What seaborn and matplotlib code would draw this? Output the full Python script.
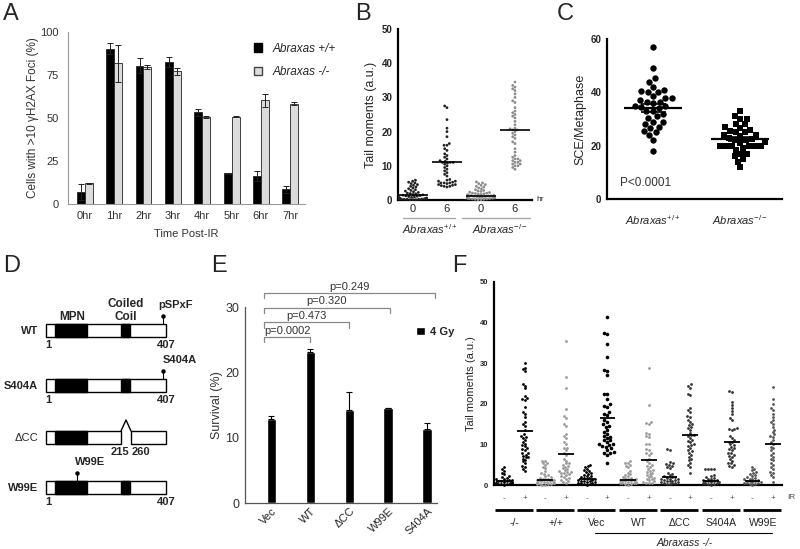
import numpy as np
import pandas as pd
import matplotlib
matplotlib.use("Agg")
import matplotlib.pyplot as plt
import seaborn as sns
from matplotlib.patches import Rectangle, Patch

sns.set_style("white")
plt.rcParams['font.family'] = ['Liberation Sans', 'DejaVu Sans']
plt.rcParams['mathtext.fontset'] = 'custom'
plt.rcParams['mathtext.it'] = 'Liberation Sans:italic'
plt.rcParams['mathtext.rm'] = 'Liberation Sans'

# ---------------- data ----------------
# A: gH2AX foci time course
time_labels = ["0hr", "1hr", "2hr", "3hr", "4hr", "5hr", "6hr", "7hr"]
foci_wt = [6.8, 90.3, 80.4, 82.5, 53.4, 18.0, 16.5, 8.5]
foci_wt_err = [4.7, 3.3, 4.3, 2.9, 2.1, 0.3, 2.9, 2.2]
foci_ko = [12.0, 81.9, 79.4, 77.1, 50.5, 50.6, 60.2, 58.3]
foci_ko_err = [0.4, 10.7, 1.2, 1.9, 0.4, 0.3, 3.7, 0.9]

# B: comet tail moments
comet_groups = ["wt 0", "wt 6", "ko 0", "ko 6"]
comet_ticks = ["0", "6", "0", "6"]
comet_wt_0 = [5.8, 5.5, 5.2, 5.0, 4.8, 4.5, 4.3, 4.0, 3.8, 3.5, 3.3, 3.0, 2.8, 2.6, 2.4,
              2.2, 2.0, 1.9, 1.8, 1.6, 1.5, 1.4, 1.3, 1.2, 1.1, 1.0, 0.9, 0.8, 0.7, 0.6,
              0.5, 0.5, 0.4, 0.4, 0.3, 0.3, 0.2, 0.2, 0.2, 0.1, 0.1, 0.1]
comet_wt_6 = [27.5, 27, 23.5, 21, 20, 18.5, 16.5, 16, 16, 15, 14.5, 13.5, 13, 12.5, 12,
              11.5, 11.3, 11, 11, 11, 10.8, 10.5, 10, 9.5, 9, 8.5, 8, 7.5, 7, 6, 5.8, 5.5,
              5.5, 5.2, 5, 5, 5, 4.8, 4.5, 4.5, 4.3, 4.2, 4, 4, 3.8]
comet_ko_0 = [5.3, 5, 4.8, 4.5, 4.3, 4, 3.8, 3.5, 3.3, 3, 2.8, 2.6, 2.5, 2.3, 2.2, 2, 2,
              1.9, 1.8, 1.7, 1.6, 1.5, 1.5, 1.4, 1.3, 1.2, 1.2, 1.1, 1, 1, 0.9, 0.8, 0.8,
              0.7, 0.6, 0.6, 0.5, 0.5, 0.4, 0.4, 0.3, 0.3, 0.2, 0.2, 0.1, 0.1]
comet_ko_6 = [34.5, 33.5, 33, 32.5, 32, 31, 30, 29, 28.5, 27, 26, 25.5, 25, 24.5, 24, 23,
              22, 21, 20.8, 20.5, 20.5, 20, 19.5, 19, 18.5, 18, 17, 16.5, 15, 14, 13, 12.5,
              12, 12, 11.5, 11.5, 11, 11, 10.5, 10.5, 10, 10, 9.5, 9]
comet_means = [1.5, 11.0, 1.2, 20.5]

# C: sister chromatid exchange
sce_genotypes = ["+/+", "-/-"]
sce_wt = [57, 49, 45.5, 44, 42, 41, 40.5, 40, 40, 38.5, 38, 38, 37, 36.5, 36.5, 36, 35,
          35, 34.5, 34, 33, 33, 32, 31, 30.5, 29, 29, 28, 27, 26.5, 25.5, 25, 24, 22, 18]
sce_ko = [33, 31, 30, 30, 28, 28, 27, 26.5, 26, 25.5, 25, 25, 24, 24, 23.5, 23, 22.5, 22,
          22, 21.5, 21, 20, 20, 20, 20, 20, 20, 19, 18.5, 17, 17, 16, 15, 14, 12]
sce_means = [34.2, 22.5]
sce_sem = [1.5, 0.9]

# D: constructs
construct_names = ["WT", "S404A", "\u0394CC", "W99E"]
site_labels = ["pSPxF", "S404A", "", "W99E"]

# E: clonogenic survival
constructs = ["Vec", "WT", "\u0394CC", "W99E", "S404A"]
survival = [12.8, 23.1, 14.3, 14.5, 11.3]
survival_err = [0.5, 0.5, 2.7, 0.1, 0.9]
p_values = ["p=0.0002", "p=0.473", "p=0.320", "p=0.249"]

# F: comet tail moments, rescue
f_groups = ["-/-", "+/+", "Vec", "WT", "\u0394CC", "S404A", "W99E"]
f_ir = ["-", "+"]
f_values = [
    [4.5, 4, 3.5, 3, 2.6, 2.2, 2, 1.8, 1.6, 1.4, 1.3, 1.2, 1.1, 1, 0.9, 0.8, 0.7, 0.6,
     0.5, 0.5, 0.4, 0.3, 0.2, 0.2, 0.1],
    [30, 28.8, 28.5, 28, 25, 24.5, 23.8, 22, 21.5, 21.3, 21, 19.3, 18, 17.5, 16.8, 15.6,
     15, 14.5, 13.5, 12.5, 12, 11.9, 11.5, 11, 10.7, 10.2, 9.8, 9.5, 9, 8.8, 8.5, 8, 7.8,
     7.5, 7.2, 7, 6.8, 6.5, 6.1, 5.8, 5.3, 4.8, 4.5, 4, 3.5],
    [6, 5.8, 5.5, 5.3, 5, 4.5, 4.2, 3.5, 3, 2.8, 2.5, 2.2, 2, 1.8, 1.6, 1.5, 1.4, 1.3,
     1.2, 1.1, 1, 1, 0.9, 0.8, 0.7, 0.6, 0.5, 0.5, 0.4, 0.3, 0.3, 0.2, 0.2, 0.1, 0.1],
    [35.5, 26.5, 24, 18.6, 17, 16.5, 15, 14.5, 12.5, 12, 11.5, 10.5, 10, 9.2, 9, 8.5, 8,
     7.5, 6.5, 6, 5.5, 5.3, 5, 4.8, 4.5, 4.3, 4, 3.8, 3.5, 3.3, 3.2, 3, 3, 2.8, 2.5, 2.2,
     2, 1.8, 1.5, 1.2, 1, 0.8, 0.6],
    [5, 4.8, 4.5, 4, 3.8, 3.5, 3.3, 3, 2.8, 2.5, 2.3, 2.2, 2, 1.8, 1.7, 1.5, 1.4, 1.3,
     1.2, 1.1, 1, 0.9, 0.8, 0.7, 0.6, 0.5, 0.4, 0.3, 0.2, 0.1],
    [41.5, 37.5, 37.2, 34.7, 31.6, 28.3, 28, 27, 22.5, 22.3, 21.3, 20, 19.5, 19.3, 18,
     17.5, 17.2, 16, 15.5, 15, 14.5, 14.3, 13.5, 13, 12.5, 12, 11.9, 11.5, 11, 11, 10.5,
     10, 10, 9.8, 9.5, 9.4, 9, 8.6, 8.2, 8, 7.8, 7.4, 5.3],
    [5.8, 5.5, 5.3, 5, 4.8, 4.5, 3.5, 3, 2.7, 2.4, 2.2, 2, 1.8, 1.7, 1.5, 1.4, 1.3, 1.2,
     1.1, 1, 0.9, 0.8, 0.7, 0.6, 0.5, 0.5, 0.4, 0.3, 0.2, 0.1],
    [28.8, 19.8, 15.5, 15.3, 15, 12.7, 12.5, 12, 11.8, 10.2, 10, 8.8, 8.5, 8, 7.8, 7.5,
     6.5, 6, 5.5, 5, 4.8, 4.5, 4, 3.7, 3.5, 3.2, 3, 2.8, 2.5, 2.3, 2, 1.8, 1.6, 1.4, 1.2,
     1, 0.8, 0.6, 0.5, 0.4],
    [8.8, 8.7, 5.6, 5.4, 5.2, 5, 4.8, 4.5, 4.3, 3, 2.8, 2.5, 2.2, 2, 1.9, 1.8, 1.6, 1.5,
     1.4, 1.3, 1.2, 1.1, 1, 0.9, 0.8, 0.7, 0.6, 0.5, 0.4, 0.3, 0.2],
    [24.8, 24.5, 24, 22.5, 22.2, 19, 18.5, 18, 17, 16.8, 16, 15.6, 15, 14.8, 14.3, 14,
     13.5, 12.8, 12.3, 12.2, 12, 11.5, 11, 10.8, 10.5, 10, 9.8, 9.5, 9, 8.6, 8.3, 8, 7.5,
     7, 6.5, 6.1, 5.5, 5, 4.5, 3],
    [4, 4, 4, 3.9, 2.5, 2.2, 2, 1.8, 1.6, 1.5, 1.3, 1.2, 1.1, 1, 0.9, 0.8, 0.7, 0.6, 0.5,
     0.4, 0.3, 0.2, 0.1],
    [23.2, 22.8, 20.5, 19.8, 19, 18.2, 17.5, 16.5, 16, 14, 13.9, 13.8, 13.5, 12, 11.5, 11,
     10.7, 10.5, 10, 9.8, 9.4, 9, 8.8, 8.5, 8, 7.8, 7.5, 7.2, 7, 6.5, 6, 5.5, 5.3, 5, 4.8,
     4.5],
    [4.5, 4, 3.6, 3.2, 3, 2.8, 2.5, 2.3, 2, 1.8, 1.6, 1.5, 1.4, 1.2, 1.1, 1, 0.9, 0.8, 0.7,
     0.6, 0.5, 0.4, 0.3, 0.2, 0.1],
    [24.2, 21.3, 20, 19, 18.5, 17.5, 16.8, 16, 15.5, 15, 14.3, 13.5, 13, 12.5, 12, 11.9,
     11, 10.5, 10, 9.4, 9, 8.5, 8, 7.5, 7, 6.5, 6.1, 5.5, 5, 4.5, 4, 3.3, 3, 2.5, 2, 0.8],
]
f_means = [1.0, 13.3, 1.3, 7.6, 1.5, 16.4, 1.2, 6.1, 2.0, 12.3, 1.0, 10.7, 1.0, 10.0]
f_colors = ["black", "black", "#9a9a9a", "#9a9a9a", "black", "black", "#9a9a9a",
            "#9a9a9a", "#333333", "#333333", "#333333", "#333333", "#555555", "#555555"]

# ---------------- figure ----------------
W, H = 800, 549
fig = plt.figure(figsize=(W / 100, H / 100), dpi=100)


def px_axes(l, t, r, b):
    return fig.add_axes([l / W, 1 - b / H, (r - l) / W, (b - t) / H])


def prism_style(ax, fs=7):
    sns.despine(ax=ax)
    for s in ["left", "bottom"]:
        ax.spines[s].set_linewidth(1.6)
        ax.spines[s].set_color("black")
    ax.tick_params(axis="y", direction="out", length=3, width=1.2, labelsize=fs, pad=1)
    for lab in ax.get_yticklabels():
        lab.set_fontweight("bold")


# ---- A ----
axA = px_axes(68, 32, 305, 204)
dfa = pd.DataFrame({"time": time_labels * 2, "pct": foci_wt + foci_ko,
                    "geno": ["+/+"] * 8 + ["-/-"] * 8})
sns.barplot(data=dfa, x="time", y="pct", hue="geno", order=time_labels,
            palette={"+/+": "black", "-/-": "#dcdcdc"}, width=0.54, gap=0,
            edgecolor="#222222", linewidth=0.6, errorbar=None, legend=False, ax=axA)
for cont, err in zip(axA.containers, [foci_wt_err, foci_ko_err]):
    xs = [p.get_x() + p.get_width() / 2 for p in cont]
    ys = [p.get_height() for p in cont]
    axA.errorbar(xs, ys, yerr=err, fmt="none", ecolor="#222222", elinewidth=0.7,
                 capsize=2.5, capthick=0.7)
axA.set_xlim(-0.57, 7.44)
axA.set_ylim(0, 100)
axA.set_yticks([0, 25, 50, 75, 100])
sns.despine(ax=axA)
for s in ["left", "bottom"]:
    axA.spines[s].set_color("#999999")
    axA.spines[s].set_linewidth(0.8)
axA.set_xticks(np.arange(-0.5, 8, 1), minor=True)
axA.tick_params(axis="x", which="major", length=0, labelsize=8, pad=5, colors="#333333")
axA.tick_params(axis="x", which="minor", length=3, color="#999999", direction="out")
axA.tick_params(axis="y", length=3, color="#999999", direction="out", labelsize=8,
                labelcolor="#333333")
axA.set_xlabel("Time Post-IR", fontsize=8, color="#333333", labelpad=6)
axA.set_ylabel("Cells with >10 \u03b3H2AX Foci (%)", fontsize=8.5, color="#333333", labelpad=1)
axA.legend(handles=[Patch(facecolor="black", edgecolor="black", label="Abraxas +/+"),
                    Patch(facecolor="#dcdcdc", edgecolor="#444444", label="Abraxas -/-")],
           loc="upper left", bbox_to_anchor=(0.74, 1.0), frameon=False,
           prop={"style": "italic", "size": 8.5}, handlelength=0.7, handleheight=0.7,
           labelspacing=1.0, handletextpad=0.9)

# ---- B ----
axB = px_axes(398, 29, 532, 200)
dfb = pd.DataFrame({"grp": np.repeat(comet_groups, [len(comet_wt_0), len(comet_wt_6),
                                                    len(comet_ko_0), len(comet_ko_6)]),
                    "val": comet_wt_0 + comet_wt_6 + comet_ko_0 + comet_ko_6})
sns.swarmplot(data=dfb, x="grp", y="val", hue="grp", order=comet_groups,
              palette={"wt 0": "#222222", "wt 6": "#222222", "ko 0": "#8c8c8c",
                       "ko 6": "#8c8c8c"},
              size=2.0, legend=False, warn_thresh=1, ax=axB)
for c in axB.collections:
    c.set_clip_on(False)
xb = np.arange(len(comet_groups))
axB.hlines(comet_means, xb - 0.45, xb + 0.45, color="black", lw=1.2, zorder=5)
axB.set_xlim(-0.44, 3.5)
axB.set_ylim(0, 50)
axB.set_yticks(range(0, 51, 10))
axB.set_xticks(xb)
axB.set_xticklabels(comet_ticks, fontsize=8)
axB.tick_params(axis="x", length=0, pad=3)
axB.set_xlabel("")
axB.set_ylabel("Tail moments (a.u.)", fontsize=9, labelpad=3)
prism_style(axB)
tb = axB.get_xaxis_transform()
axB.plot([-0.29, 1.24], [-0.105, -0.105], color="#aaaaaa", lw=1, transform=tb, clip_on=False)
axB.plot([1.44, 3.44], [-0.105, -0.105], color="#aaaaaa", lw=1, transform=tb, clip_on=False)
axB.text(0.5, -0.17, r"$\mathit{Abraxas}^{+/+}$", transform=tb, ha="center", va="center",
         fontsize=8)
axB.text(2.55, -0.17, r"$\mathit{Abraxas}^{-/-}$", transform=tb, ha="center", va="center",
         fontsize=8)
axB.text(3.63, 0.005, "hr", transform=tb, ha="left", va="center", fontsize=6)

# ---- C ----
axC = px_axes(607, 39, 782, 199)
dfc_wt = pd.DataFrame({"geno": "+/+", "sce": sce_wt})
dfc_ko = pd.DataFrame({"geno": "-/-", "sce": sce_ko})
sns.swarmplot(data=dfc_wt, x="geno", y="sce", order=sce_genotypes, color="black",
              marker="o", size=4.6, warn_thresh=1, ax=axC)
sns.swarmplot(data=dfc_ko, x="geno", y="sce", order=sce_genotypes, color="black",
              marker="s", size=4.2, warn_thresh=1, ax=axC)
xc = np.arange(2)
axC.hlines(sce_means, xc - 0.33, xc + 0.33, color="black", lw=1.6, zorder=5)
axC.errorbar(xc, sce_means, yerr=sce_sem, fmt="none", ecolor="black", elinewidth=1.2,
             capsize=9, capthick=1.2, zorder=5)
axC.set_xlim(-0.53, 1.48)
axC.set_ylim(0, 60)
axC.set_yticks([0, 20, 40, 60])
axC.set_xticks(xc)
axC.set_xticklabels([r"$\mathit{Abraxas}^{+/+}$", r"$\mathit{Abraxas}^{-/-}$"], fontsize=8)
axC.tick_params(axis="x", direction="out", length=3, width=1.2, pad=7)
axC.set_xlabel("")
axC.set_ylabel("SCE/Metaphase", fontsize=9, labelpad=3)
prism_style(axC)
axC.text(-0.38, 6, "P<0.0001", ha="left", va="center", fontsize=8.5, color="#333333")

# ---- D (schematic) ----
axD = fig.add_axes([0, 0, 200 / W, 1])
axD.set_xlim(0, 200)
axD.set_ylim(H, 0)
axD.axis("off")
row_top = [324, 379, 431, 481]
site_x = [163, 163, None, 77]
site_lab_x = [176, 180, None, 90]
for i, name in enumerate(construct_names):
    y0 = row_top[i]
    hgt = 13
    if name == "\u0394CC":
        axD.add_patch(Rectangle((46, y0), 75, hgt, facecolor="white", edgecolor="black", lw=1))
        axD.add_patch(Rectangle((131, y0), 35, hgt, facecolor="white", edgecolor="black", lw=1))
        axD.plot([121, 126, 131], [y0, y0 - 11, y0], color="black", lw=1)
        axD.text(120, y0 + 21, "215", ha="center", va="center", fontsize=8, fontweight="bold")
        axD.text(141, y0 + 21, "260", ha="center", va="center", fontsize=8, fontweight="bold")
        axD.text(38, y0 + 7, name, ha="right", va="center", fontsize=8)
    else:
        axD.add_patch(Rectangle((46, y0), 120, hgt, facecolor="white", edgecolor="black", lw=1))
        axD.add_patch(Rectangle((121, y0), 9, hgt, facecolor="black", edgecolor="black", lw=1))
        axD.text(48, y0 + 21, "1", ha="center", va="center", fontsize=8, fontweight="bold")
        axD.text(166, y0 + 21, "407", ha="center", va="center", fontsize=8, fontweight="bold")
        axD.text(38, y0 + 7, name, ha="right", va="center", fontsize=8, fontweight="bold")
    axD.add_patch(Rectangle((55, y0), 32, hgt, facecolor="black", edgecolor="black", lw=1))
    if site_x[i] is not None:
        axD.plot([site_x[i], site_x[i]], [y0, y0 - 7], color="black", lw=0.8)
        axD.plot(site_x[i], y0 - 8, "o", color="black", ms=2.2)
        axD.text(site_lab_x[i], y0 - 19, site_labels[i], ha="center", va="center",
                 fontsize=8, fontweight="bold")
axD.text(72, 317, "MPN", ha="center", va="center", fontsize=8.5, fontweight="bold")
axD.text(126, 304, "Coiled", ha="center", va="center", fontsize=8.5, fontweight="bold")
axD.text(126, 317, "Coil", ha="center", va="center", fontsize=8.5, fontweight="bold")

# ---- E ----
axE = px_axes(245, 307, 437, 503)
sns.barplot(x=constructs, y=survival, color="black", width=0.25, errorbar=None, ax=axE)
xe = np.arange(len(constructs))
axE.errorbar(xe, survival, yerr=[[0] * len(xe), survival_err], fmt="none", ecolor="black",
             elinewidth=0.8, capsize=2.5, capthick=0.8)
axE.set_xlim(-0.68, 4.25)
axE.set_ylim(0, 30)
axE.set_yticks([0, 10, 20, 30])
sns.despine(ax=axE)
for s in ["left", "bottom"]:
    axE.spines[s].set_color("#555555")
    axE.spines[s].set_linewidth(0.9)
axE.tick_params(axis="y", length=3, direction="out", color="#555555", labelsize=9,
                labelcolor="#333333", pad=1)
axE.tick_params(axis="x", length=0, labelsize=8, pad=2)
for lab in axE.get_xticklabels():
    lab.set_rotation(45)
    lab.set_ha("right")
    lab.set_rotation_mode("anchor")
axE.set_ylabel("Survival (%)", fontsize=9, color="#333333", labelpad=2)
for i, ptxt in enumerate(p_values):
    yb = 25.4 + 2.25 * i
    xr = [1, 2, 3.05, 4.2][i]
    axE.plot([-0.2, -0.2, xr, xr], [yb - 0.8, yb, yb, yb - 0.8], color="#888888", lw=0.9,
             clip_on=False)
    axE.text((-0.2 + xr) / 2, yb + 0.2, ptxt, ha="center", va="bottom", fontsize=8,
             color="#333333", clip_on=False)
axE.legend(handles=[Patch(facecolor="black", label="4 Gy")], loc="upper left",
           bbox_to_anchor=(0.84, 0.95), frameon=False,
           prop={"weight": "bold", "size": 8}, handlelength=0.8, handleheight=0.8,
           handletextpad=0.4)

# ---- F ----
axF = px_axes(494, 282, 782, 485)
f_cols = [g + " " + ir for g in f_groups for ir in f_ir]
for j, col in enumerate(f_cols):
    dff = pd.DataFrame({"col": col, "tail": f_values[j]})
    sns.swarmplot(data=dff, x="col", y="tail", order=f_cols, color=f_colors[j],
                  size=2.6 if col == "Vec +" else 2.0, warn_thresh=1, ax=axF)
for c in axF.collections:
    c.set_clip_on(False)
xf = np.arange(len(f_cols))
axF.hlines(f_means, xf - 0.38, xf + 0.38, color="black", lw=1.3, zorder=5)
axF.set_xlim(-0.48, 13.43)
axF.set_ylim(0, 50)
axF.set_yticks(range(0, 51, 10))
axF.set_xticks(xf)
axF.set_xticklabels(f_ir * len(f_groups), fontsize=6, color="#555555")
axF.tick_params(axis="x", length=0, pad=7)
axF.set_xlabel("")
axF.set_ylabel("Tail moments (a.u.)", fontsize=8, labelpad=3)
prism_style(axF, fs=5.5)
tf = axF.get_xaxis_transform()
axF.text(13.9, -0.064, "IR", transform=tf, ha="center", va="center", fontsize=6,
         color="#555555")
for g, gname in enumerate(f_groups):
    axF.plot([2 * g - 0.45, 2 * g + 1.38], [-0.123, -0.123], color="black", lw=2,
             transform=tf, clip_on=False, solid_capstyle="butt")
    axF.text(2 * g + 0.5, -0.187, gname, transform=tf, ha="center", va="center",
             fontsize=7.5)
axF.plot([4.4, 12.95], [-0.236, -0.236], color="black", lw=0.8, transform=tf, clip_on=False)
axF.text(8.74, -0.286, "Abraxass -/-", transform=tf, ha="center", va="center",
         fontsize=7.5, style="italic")

# ---- panel letters ----
for letter, (lx, ly) in {"A": (3, 3), "B": (355, 3), "C": (557, 3), "D": (3, 255),
                         "E": (211, 255), "F": (452, 255)}.items():
    fig.text(lx / W, 1 - ly / H, letter, fontsize=17, va="top", ha="left")

fig.savefig("out.png", dpi=100)
